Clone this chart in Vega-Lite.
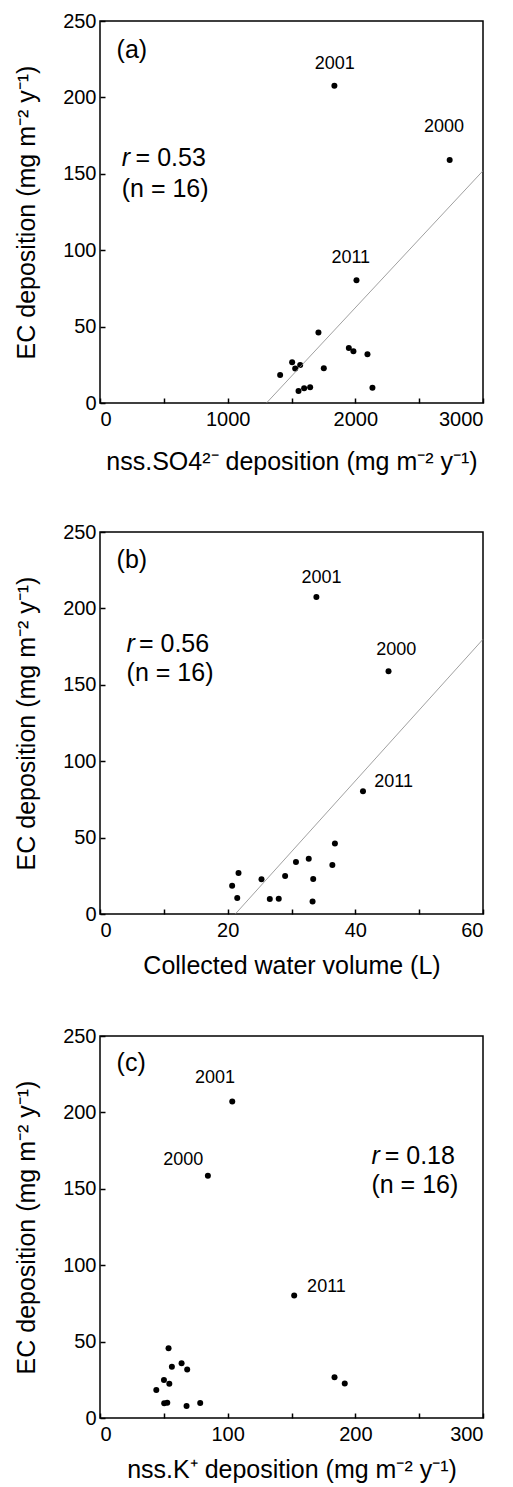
{
  "$schema": "https://vega.github.io/schema/vega-lite/v6.json",
  "padding": {"left": 13, "top": 10, "right": 10, "bottom": 5},
  "spacing": 46,
  "config": {
    "font": "Liberation Sans",
    "view": {"stroke": "black", "strokeWidth": 1.5},
    "axis": {
      "domain": false, "grid": false, "ticks": true, "tickSize": -5, "tickWidth": 1.5, "tickColor": "black",
      "labelFontSize": 20, "labelColor": "black", "labelPadding": 11,
      "titleFontSize": 25, "titleFontWeight": "normal", "titleColor": "black"
    },
    "axisY": {"titlePadding": 23, "labelPadding": 9},
    "axisX": {"titlePadding": 13}
  },
  "datasets": {
    "ptsA": [
      {"x": 1836, "y": 207.6}, {"x": 2739, "y": 159.0}, {"x": 2009, "y": 80.3}, {"x": 1711, "y": 46.1},
      {"x": 1949, "y": 36.0}, {"x": 1985, "y": 33.8}, {"x": 2095, "y": 31.9}, {"x": 1505, "y": 26.6},
      {"x": 1568, "y": 24.9}, {"x": 1529, "y": 22.5}, {"x": 1753, "y": 22.7}, {"x": 1411, "y": 18.3},
      {"x": 2134, "y": 10.0}, {"x": 1646, "y": 10.3}, {"x": 1599, "y": 9.6}, {"x": 1555, "y": 7.9}
    ],
    "ptsB": [
      {"x": 33.9, "y": 207.5}, {"x": 45.2, "y": 158.9}, {"x": 41.2, "y": 80.4}, {"x": 36.8, "y": 46.2},
      {"x": 32.7, "y": 36.2}, {"x": 30.7, "y": 34.0}, {"x": 36.4, "y": 32.0}, {"x": 21.7, "y": 26.8},
      {"x": 29.0, "y": 24.8}, {"x": 25.3, "y": 22.7}, {"x": 33.4, "y": 22.9}, {"x": 20.7, "y": 18.5},
      {"x": 21.5, "y": 10.5}, {"x": 26.6, "y": 9.8}, {"x": 28.0, "y": 10.0}, {"x": 33.3, "y": 8.1}
    ],
    "ptsC": [
      {"x": 103.6, "y": 207.1}, {"x": 84.5, "y": 158.5}, {"x": 152.1, "y": 80.1}, {"x": 53.7, "y": 45.7},
      {"x": 63.9, "y": 35.9}, {"x": 56.3, "y": 33.5}, {"x": 68.3, "y": 31.8}, {"x": 183.7, "y": 26.6},
      {"x": 50.1, "y": 24.8}, {"x": 54.3, "y": 22.4}, {"x": 191.7, "y": 22.6}, {"x": 44.1, "y": 18.3},
      {"x": 78.5, "y": 9.8}, {"x": 52.7, "y": 10.0}, {"x": 50.3, "y": 9.6}, {"x": 67.8, "y": 7.8}
    ],
    "fitA": [{"x": 1304, "y": 0}, {"x": 3000, "y": 152}],
    "fitB": [{"x": 21.2, "y": 0}, {"x": 60, "y": 179.8}],
    "yearsA": [{"x": 1839, "y": 222.1, "text": "2001"}, {"x": 2695, "y": 180.6, "text": "2000"}, {"x": 1964, "y": 95.0, "text": "2011"}],
    "yearsB": [{"x": 34.7, "y": 220.1, "text": "2001"}, {"x": 46.4, "y": 172.8, "text": "2000"}, {"x": 46.0, "y": 86.5, "text": "2011"}],
    "yearsC": [{"x": 90, "y": 222.8, "text": "2001"}, {"x": 65.2, "y": 169, "text": "2000"}, {"x": 177.4, "y": 85.8, "text": "2011"}],
    "rA": [{"x": 170, "y": 160.5, "text": "r"}],
    "rB": [{"x": 4.17, "y": 176.5, "text": "r"}],
    "rC": [{"x": 212.6, "y": 171.2, "text": "r"}],
    "statA": [{"x": 279, "y": 160.5, "text": "= 0.53"}, {"x": 170, "y": 140.2, "text": "(n = 16)"}],
    "statB": [{"x": 6.1, "y": 176.5, "text": "= 0.56"}, {"x": 4.17, "y": 157.6, "text": "(n = 16)"}],
    "statC": [{"x": 223, "y": 171.2, "text": "= 0.18"}, {"x": 212.6, "y": 152.7, "text": "(n = 16)"}],
    "panA": [{"x": 130, "y": 230.8, "text": "(a)"}],
    "panB": [{"x": 2.6, "y": 231.5, "text": "(b)"}],
    "panC": [{"x": 13, "y": 232.1, "text": "(c)"}]
  },
  "vconcat": [
    {
      "width": 383, "height": 382,
      "layer": [
        {
          "data": {"name": "ptsA"},
          "mark": {"type": "circle", "size": 36, "color": "black", "opacity": 1},
          "encoding": {
            "x": {"field": "x", "type": "quantitative", "scale": {"domain": [0, 3000], "nice": false},
                  "axis": {"values": [0, 500, 1000, 1500, 2000, 2500, 3000], "labelExpr": "datum.value % 1000 === 0 ? datum.label : ''", "format": "d", "titlePadding": 20},
                  "title": "nss.SO4²⁻ deposition (mg m⁻² y⁻¹)"},
            "y": {"field": "y", "type": "quantitative", "scale": {"domain": [0, 250], "nice": false},
                  "axis": {"values": [0, 50, 100, 150, 200, 250]},
                  "title": "EC deposition (mg m⁻² y⁻¹)"}
          }
        },
        {
          "data": {"name": "fitA"},
          "mark": {"type": "line", "color": "#888888", "strokeWidth": 0.8},
          "encoding": {"x": {"field": "x", "type": "quantitative"}, "y": {"field": "y", "type": "quantitative"}}
        },
        {
          "data": {"name": "yearsA"},
          "mark": {"type": "text", "fontSize": 18, "align": "center", "baseline": "middle", "color": "black"},
          "encoding": {"x": {"field": "x", "type": "quantitative"}, "y": {"field": "y", "type": "quantitative"}, "text": {"field": "text"}}
        },
        {
          "data": {"name": "rA"},
          "mark": {"type": "text", "fontSize": 25, "fontStyle": "italic", "align": "left", "baseline": "middle", "color": "black"},
          "encoding": {"x": {"field": "x", "type": "quantitative"}, "y": {"field": "y", "type": "quantitative"}, "text": {"field": "text"}}
        },
        {
          "data": {"name": "statA"},
          "mark": {"type": "text", "fontSize": 25, "align": "left", "baseline": "middle", "color": "black"},
          "encoding": {"x": {"field": "x", "type": "quantitative"}, "y": {"field": "y", "type": "quantitative"}, "text": {"field": "text"}}
        },
        {
          "data": {"name": "panA"},
          "mark": {"type": "text", "fontSize": 25, "align": "left", "baseline": "middle", "color": "black"},
          "encoding": {"x": {"field": "x", "type": "quantitative"}, "y": {"field": "y", "type": "quantitative"}, "text": {"field": "text"}}
        }
      ]
    },
    {
      "width": 383, "height": 382,
      "layer": [
        {
          "data": {"name": "ptsB"},
          "mark": {"type": "circle", "size": 36, "color": "black", "opacity": 1},
          "encoding": {
            "x": {"field": "x", "type": "quantitative", "scale": {"domain": [0, 60], "nice": false},
                  "axis": {"values": [0, 10, 20, 30, 40, 50, 60], "labelExpr": "datum.value % 20 === 0 ? datum.label : ''"},
                  "title": "Collected water volume (L)"},
            "y": {"field": "y", "type": "quantitative", "scale": {"domain": [0, 250], "nice": false},
                  "axis": {"values": [0, 50, 100, 150, 200, 250]},
                  "title": "EC deposition (mg m⁻² y⁻¹)"}
          }
        },
        {
          "data": {"name": "fitB"},
          "mark": {"type": "line", "color": "#888888", "strokeWidth": 0.8},
          "encoding": {"x": {"field": "x", "type": "quantitative"}, "y": {"field": "y", "type": "quantitative"}}
        },
        {
          "data": {"name": "yearsB"},
          "mark": {"type": "text", "fontSize": 18, "align": "center", "baseline": "middle", "color": "black"},
          "encoding": {"x": {"field": "x", "type": "quantitative"}, "y": {"field": "y", "type": "quantitative"}, "text": {"field": "text"}}
        },
        {
          "data": {"name": "rB"},
          "mark": {"type": "text", "fontSize": 25, "fontStyle": "italic", "align": "left", "baseline": "middle", "color": "black"},
          "encoding": {"x": {"field": "x", "type": "quantitative"}, "y": {"field": "y", "type": "quantitative"}, "text": {"field": "text"}}
        },
        {
          "data": {"name": "statB"},
          "mark": {"type": "text", "fontSize": 25, "align": "left", "baseline": "middle", "color": "black"},
          "encoding": {"x": {"field": "x", "type": "quantitative"}, "y": {"field": "y", "type": "quantitative"}, "text": {"field": "text"}}
        },
        {
          "data": {"name": "panB"},
          "mark": {"type": "text", "fontSize": 25, "align": "left", "baseline": "middle", "color": "black"},
          "encoding": {"x": {"field": "x", "type": "quantitative"}, "y": {"field": "y", "type": "quantitative"}, "text": {"field": "text"}}
        }
      ]
    },
    {
      "width": 383, "height": 382,
      "layer": [
        {
          "data": {"name": "ptsC"},
          "mark": {"type": "circle", "size": 36, "color": "black", "opacity": 1},
          "encoding": {
            "x": {"field": "x", "type": "quantitative", "scale": {"domain": [0, 300], "nice": false},
                  "axis": {"values": [0, 50, 100, 150, 200, 250, 300], "labelExpr": "datum.value % 100 === 0 ? datum.label : ''"},
                  "title": "nss.K⁺ deposition (mg m⁻² y⁻¹)"},
            "y": {"field": "y", "type": "quantitative", "scale": {"domain": [0, 250], "nice": false},
                  "axis": {"values": [0, 50, 100, 150, 200, 250]},
                  "title": "EC deposition (mg m⁻² y⁻¹)"}
          }
        },
        {
          "data": {"name": "yearsC"},
          "mark": {"type": "text", "fontSize": 18, "align": "center", "baseline": "middle", "color": "black"},
          "encoding": {"x": {"field": "x", "type": "quantitative"}, "y": {"field": "y", "type": "quantitative"}, "text": {"field": "text"}}
        },
        {
          "data": {"name": "rC"},
          "mark": {"type": "text", "fontSize": 25, "fontStyle": "italic", "align": "left", "baseline": "middle", "color": "black"},
          "encoding": {"x": {"field": "x", "type": "quantitative"}, "y": {"field": "y", "type": "quantitative"}, "text": {"field": "text"}}
        },
        {
          "data": {"name": "statC"},
          "mark": {"type": "text", "fontSize": 25, "align": "left", "baseline": "middle", "color": "black"},
          "encoding": {"x": {"field": "x", "type": "quantitative"}, "y": {"field": "y", "type": "quantitative"}, "text": {"field": "text"}}
        },
        {
          "data": {"name": "panC"},
          "mark": {"type": "text", "fontSize": 25, "align": "left", "baseline": "middle", "color": "black"},
          "encoding": {"x": {"field": "x", "type": "quantitative"}, "y": {"field": "y", "type": "quantitative"}, "text": {"field": "text"}}
        }
      ]
    }
  ]
}
